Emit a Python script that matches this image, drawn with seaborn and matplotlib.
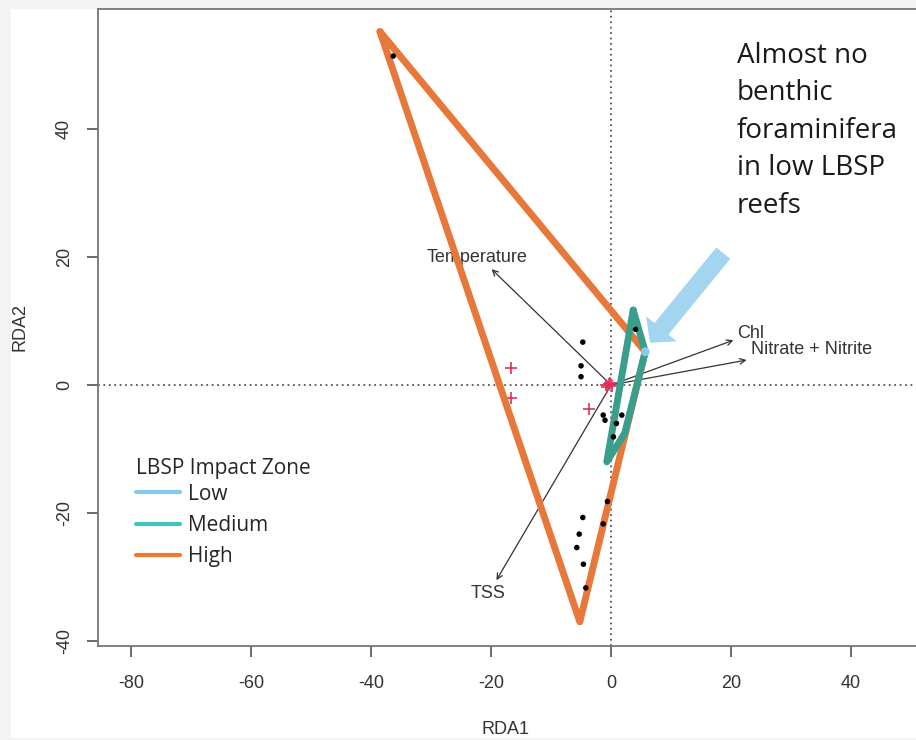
import numpy as np
import pandas as pd
import matplotlib
matplotlib.use("Agg")
import matplotlib.pyplot as plt
from matplotlib.lines import Line2D
from matplotlib.patches import Rectangle
import seaborn as sns

# Site scores (RDA1, RDA2)
site_x = [-36.3, -4.7, -5.0, -5.0, -1.3, -1.0, 1.8, 0.9, 0.4, 4.1,
          -0.6, -4.7, -1.3, -5.3, -5.7, -4.6, -4.2]
site_y = [51.4, 6.7, 3.0, 1.3, -4.7, -5.5, -4.7, -6.0, -8.1, 8.7,
          -18.2, -20.7, -21.7, -23.3, -25.4, -28.0, -31.7]

# Species scores
spec_x = [-16.6, -16.6, -3.7, -0.6, -0.3, 0.1, -0.8, -0.2]
spec_y = [2.6, -2.1, -3.8, -0.3, 0.2, -0.1, 0.0, 0.3]

# Environmental biplot vectors
env_names = ["Temperature", "TSS", "Chl", "Nitrate + Nitrite"]
env_x = [-19.9, -19.1, 20.4, 22.6]
env_y = [18.1, -30.5, 7.0, 3.9]
env_label_x = [-22.3, -20.5, 21.0, 23.3]
env_label_y = [20.0, -32.6, 8.1, 5.5]
env_label_ha = ["center", "center", "left", "left"]

# Convex hulls per LBSP impact zone (closed polygons)
high_hull_x = [-38.5, 5.7, -5.2, -38.5]
high_hull_y = [55.2, 5.2, -37.0, 55.2]
medium_hull_x = [3.7, 5.7, 2.3, -0.7, 3.7]
medium_hull_y = [11.7, 5.2, -7.5, -12.0, 11.7]
low_x = [5.7]
low_y = [5.2]

zones = ["Low", "Medium", "High"]
legend_colors = ["#84c8ee", "#3fc6c4", "#f07a2a"]
hull_colors = {"High": "#e8783a", "Medium": "#3a9e8c"}

hulls = pd.concat([
    pd.DataFrame({"RDA1": high_hull_x, "RDA2": high_hull_y, "zone": "High"}),
    pd.DataFrame({"RDA1": medium_hull_x, "RDA2": medium_hull_y, "zone": "Medium"}),
], ignore_index=True)
sites = pd.DataFrame({"RDA1": site_x, "RDA2": site_y})
species = pd.DataFrame({"RDA1": spec_x, "RDA2": spec_y})

sns.set_style("white")
plt.rcParams["font.family"] = ["Liberation Sans", "DejaVu Sans"]

W, H = 916, 740
fig = plt.figure(figsize=(W / 100, H / 100), dpi=100, facecolor="#f3f3f3")
fig.patches.append(Rectangle((11 / W, 2 / H), (W - 11) / W, (731 - 2) / H,
                             transform=fig.transFigure, facecolor="white",
                             edgecolor="none", zorder=-10))

ax = fig.add_axes([98 / W, (H - 646) / H, (W - 98) / W, (646 - 9) / H])
ax.set_facecolor("white")
ax.set_zorder(1)

# Reference lines through the origin
ax.axhline(0, color="#555555", lw=1.3, ls=(0, (1, 2)), zorder=1)
ax.axvline(0, color="#555555", lw=1.3, ls=(0, (1, 2)), zorder=1)

sns.scatterplot(data=species, x="RDA1", y="RDA2", ax=ax, color="#e0305a",
                marker="+", s=70, linewidth=1.2, zorder=3, legend=False)

for name, ex, ey, lx, ly, ha in zip(env_names, env_x, env_y, env_label_x,
                                     env_label_y, env_label_ha):
    ax.annotate("", xy=(ex, ey), xytext=(0, 0),
                arrowprops=dict(arrowstyle="->", color="#333333", lw=0.9,
                                shrinkA=0, shrinkB=0, mutation_scale=10),
                zorder=2)
    ax.text(lx, ly, name, ha=ha, va="center", fontsize=13, color="#333333",
            zorder=2)

sns.lineplot(data=hulls, x="RDA1", y="RDA2", hue="zone", palette=hull_colors,
             units="zone", estimator=None, sort=False, lw=5, ax=ax,
             legend=False, zorder=4, solid_joinstyle="round",
             solid_capstyle="round")
ax.scatter(low_x, low_y, s=40, color="#8ccbf0", edgecolor="none", zorder=5)
sns.scatterplot(data=sites, x="RDA1", y="RDA2", ax=ax, color="black", s=16,
                edgecolor="none", zorder=5, legend=False)

ax.set_xlim(-85.5, 50.83)
ax.set_ylim(-40.78, 58.75)
ax.set_xticks([-80, -60, -40, -20, 0, 20, 40])
ax.set_yticks([-40, -20, 0, 20, 40])
ax.set_xticklabels(["-80", "-60", "-40", "-20", "0", "20", "40"])
ax.set_yticklabels(["-40", "-20", "0", "20", "40"], rotation=90, va="center")
ax.tick_params(axis="both", which="both", direction="out", length=8,
               width=1.1, color="#444444", labelsize=13, labelcolor="#333333")
ax.tick_params(axis="x", pad=13)
ax.tick_params(axis="y", pad=10, left=True)
ax.tick_params(axis="x", bottom=True)
ax.set_xlabel("")
ax.set_ylabel("")
for side in ["left", "bottom", "top"]:
    ax.spines[side].set_visible(True)
    ax.spines[side].set_color("#777777")
    ax.spines[side].set_linewidth(1.3)
ax.spines["right"].set_visible(False)

fig.text(505 / W, 1 - 730 / H, "RDA1", ha="center", va="center", fontsize=13,
         color="#333333")
fig.text(20 / W, 1 - 327 / H, "RDA2", ha="center", va="center", fontsize=13,
         color="#333333", rotation=90)

# Callout arrow and note
ax.annotate("", xy=(6.5, 6.6), xytext=(18.7, 20.6),
            arrowprops=dict(arrowstyle="simple,head_length=1.0,head_width=2.2,tail_width=1.0",
                            color="#a3d5f1", lw=0, shrinkA=0, shrinkB=0,
                            mutation_scale=13),
            zorder=6)
fig.text(737 / W, 1 - 42 / H,
         "Almost no\nbenthic\nforaminifera\nin low LBSP\nreefs",
         ha="left", va="top", fontsize=20, color="#1a1a1a",
         family=["Open Sans", "DejaVu Sans"], linespacing=1.45, zorder=5)

# Legend
handles = [Line2D([], [], color=c, lw=3) for c in legend_colors]
leg = ax.legend(handles, zones, title="LBSP Impact Zone", loc="upper left",
                bbox_to_anchor=((128 - 98) / (W - 98), (646 - 450) / (646 - 9)),
                frameon=False, handlelength=2.1, handletextpad=0.4,
                labelspacing=0.5, borderaxespad=0,
                prop={"family": ["Open Sans", "DejaVu Sans"], "size": 15},
                title_fontproperties={"family": ["Open Sans", "DejaVu Sans"],
                                      "size": 15})
leg._legend_box.align = "left"
leg._legend_box.sep = 3

fig.savefig("out.png", dpi=100, facecolor=fig.get_facecolor())
